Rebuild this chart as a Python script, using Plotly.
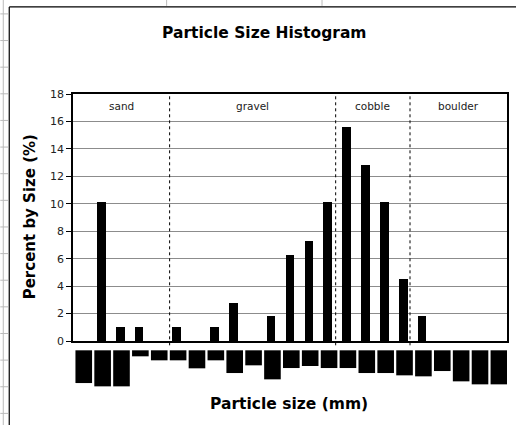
import plotly.graph_objects as go

# ---------------- data ----------------
size_classes = list(range(23))                       # 23 size classes (tick labels unreadable)
percent_by_size = [0, 10.1, 1.0, 1.0, 0, 1.0, 0, 1.0, 2.75, 0, 1.8, 6.3, 7.3, 10.1,
                   15.6, 12.8, 10.1, 4.55, 1.8, 0, 0, 0, 0]
# relative length of each (obscured) rotated tick label, in px
tick_label_len = [32.7, 36, 36, 6, 10, 10, 18, 10, 22.7, 15, 29, 17.7, 15.7, 17.7,
                  17.7, 22.7, 22.7, 25, 26, 20.7, 31, 34, 34]
region_names = ["sand", "gravel", "cobble", "boulder"]
region_bounds = [-0.5, 4.62, 13.42, 17.36, 22.5]    # class-axis positions of class boundaries

# ---------------- geometry ----------------
W, H = 516, 425
L, R, T, B = 73, 7.3, 94, 84.3
PW, PH = W - L - R, H - T - B


def px_x(x):
    return (x - L) / PW


def px_y(y):
    return (H - B - y) / PH


FONT = "DejaVu Sans, Verdana, sans-serif"

fig = go.Figure()
fig.add_trace(go.Bar(x=size_classes, y=percent_by_size, width=0.46,
                     marker=dict(color="black", line=dict(width=0)),
                     showlegend=False, hoverinfo="x+y"))

shapes = []
annotations = []

# region separators (dotted)
for b in region_bounds[1:-1]:
    shapes.append(dict(type="line", xref="x", yref="paper", x0=b, x1=b,
                       y0=px_y(345), y1=1, line=dict(color="black", width=1, dash="dot")))
# region labels
for i, name in enumerate(region_names):
    annotations.append(dict(xref="x", yref="paper", x=(region_bounds[i] + region_bounds[i + 1]) / 2,
                            y=px_y(106), text=name, showarrow=False,
                            font=dict(family=FONT, size=10.5, color="#222"),
                            xanchor="center", yanchor="middle"))

# obscured tick labels (black blocks)
for c, ln in zip(size_classes, tick_label_len):
    shapes.append(dict(type="rect", xref="x", yref="paper", x0=c - 0.37, x1=c + 0.51,
                       y0=px_y(350), y1=px_y(350 + ln),
                       fillcolor="black", line=dict(width=0), layer="above"))

# chart-area border and spreadsheet cell lines
shapes.append(dict(type="line", xref="paper", yref="paper", x0=px_x(9), x1=px_x(520),
                   y0=px_y(7), y1=px_y(7), line=dict(color="black", width=1.2)))
shapes.append(dict(type="line", xref="paper", yref="paper", x0=px_x(9), x1=px_x(9),
                   y0=px_y(7), y1=px_y(430), line=dict(color="black", width=1.2)))
shapes.append(dict(type="line", xref="paper", yref="paper", x0=px_x(3), x1=px_x(3),
                   y0=px_y(0), y1=px_y(430), line=dict(color="#bbbbbb", width=1)))
for k in range(17):
    yy = 14 + 26.6 * k
    shapes.append(dict(type="line", xref="paper", yref="paper", x0=px_x(0), x1=px_x(8),
                       y0=px_y(yy), y1=px_y(yy), line=dict(color="#bbbbbb", width=1)))
for xx in (167, 323):
    shapes.append(dict(type="line", xref="paper", yref="paper", x0=px_x(xx), x1=px_x(xx),
                       y0=px_y(0), y1=px_y(6), line=dict(color="#bbbbbb", width=1)))

# titles
annotations.append(dict(xref="paper", yref="paper", x=px_x(265), y=px_y(33),
                        text="<b>Particle Size Histogram</b>", showarrow=False,
                        font=dict(family=FONT, size=15.5, color="black"),
                        xanchor="center", yanchor="middle"))
annotations.append(dict(xref="paper", yref="paper", x=px_x(30), y=px_y(217),
                        text="<b>Percent by Size (%)</b>", showarrow=False, textangle=-90,
                        font=dict(family=FONT, size=15, color="black"),
                        xanchor="center", yanchor="middle"))
annotations.append(dict(xref="paper", yref="paper", x=px_x(290), y=px_y(404),
                        text="<b>Particle size (mm)</b>", showarrow=False,
                        font=dict(family=FONT, size=15.5, color="black"),
                        xanchor="center", yanchor="middle"))

fig.update_layout(
    width=W, height=H,
    margin=dict(l=L, r=R, t=T, b=B, pad=0),
    paper_bgcolor="white", plot_bgcolor="white",
    shapes=shapes, annotations=annotations,
    bargap=0,
    xaxis=dict(range=[-0.5, 22.5], showticklabels=False, ticks="", showgrid=False,
               showline=True, linecolor="black", linewidth=1.5, mirror=True, zeroline=False,
               fixedrange=True),
    yaxis=dict(range=[0, 18], dtick=2, tick0=0, showgrid=True, gridcolor="#8c8c8c", gridwidth=1,
               ticks="outside", ticklen=5, tickcolor="black", tickwidth=1,
               tickfont=dict(family=FONT, size=11, color="#222"),
               showline=True, linecolor="black", linewidth=1.5, mirror=True, zeroline=False,
               fixedrange=True),
)

fig.write_html("out.html")
